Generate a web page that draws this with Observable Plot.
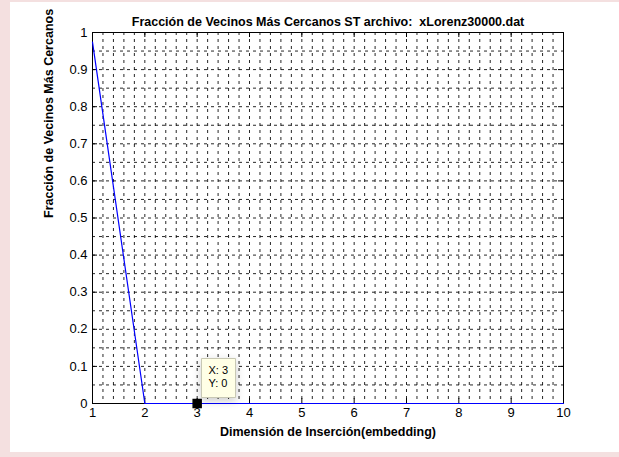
<!DOCTYPE html>
<html>
<head>
<meta charset="utf-8">
<script src="https://cdn.jsdelivr.net/npm/d3@7"></script>
<script src="https://cdn.jsdelivr.net/npm/@observablehq/plot@0.6"></script>
<style>
  html, body { margin: 0; padding: 0; background: #f4e0e0; width: 619px; height: 457px; overflow: hidden; }
  #paper { position: absolute; left: 10px; top: 2px; width: 609px; height: 450px; background: #ffffff; }
  #chart { position: absolute; left: 0; top: 0; }
</style>
</head>
<body>
<div id="paper"></div>
<div id="chart"></div>
<script>
// Data
const dimensions = [1, 2, 3, 4, 5, 6, 7, 8, 9, 10];
const fractions  = [0.974, 0, 0, 0, 0, 0, 0, 0, 0, 0];
const xTicks = [1, 2, 3, 4, 5, 6, 7, 8, 9, 10];
const yTicks = [0, 0.1, 0.2, 0.3, 0.4, 0.5, 0.6, 0.7, 0.8, 0.9, 1];
const yTickLabels = ["0", "0.1", "0.2", "0.3", "0.4", "0.5", "0.6", "0.7", "0.8", "0.9", "1"];
const xMinorStep = 0.2;
const yMinorStep = 0.05;
const tipPoint = [{x: 3, y: 0}];
const titleText = "Fracción de Vecinos Más Cercanos ST archivo:  xLorenz30000.dat";
const xLabel = "Dimensión de Inserción(embedding)";
const yLabel = "Fracción de Vecinos Más Cercanos";

const series = dimensions.map((d, i) => ({x: d, y: fractions[i]}));
const xGrid = d3.range(1, 10 + 1e-9, xMinorStep).map(v => +v.toFixed(2));
const yGrid = d3.range(0, 1 + 1e-9, yMinorStep).map(v => +v.toFixed(2));

const W = 619, H = 457;
const mL = 92, mR = 56, mT = 32, mB = 54;
const frameH = H - mT - mB;
const frameW = W - mL - mR;
const font = "'Liberation Sans', Arial, Helvetica, sans-serif";

const chart = Plot.plot({
  width: W,
  height: H,
  marginLeft: mL,
  marginRight: mR,
  marginTop: mT,
  marginBottom: mB,
  style: {background: "transparent", fontFamily: font, fontSize: "12px", color: "#000"},
  x: {domain: [1, 10]},
  y: {domain: [0, 1]},
  marks: [
    // dashed grid
    Plot.ruleX(xGrid, {x: d => d, stroke: "#000", strokeWidth: 1, strokeDasharray: "3,4", strokeOpacity: 0.85}),
    Plot.ruleY(yGrid, {y: d => d, stroke: "#000", strokeWidth: 1, strokeDasharray: "3,4", strokeOpacity: 0.85}),
    // inward ticks on all sides
    Plot.ruleX(xTicks, {x: d => d, insetTop: frameH - 5, stroke: "#000"}),
    Plot.ruleX(xTicks, {x: d => d, insetBottom: frameH - 5, stroke: "#000"}),
    Plot.ruleY(yTicks, {y: d => d, insetRight: frameW - 5, stroke: "#000"}),
    Plot.ruleY(yTicks, {y: d => d, insetLeft: frameW - 5, stroke: "#000"}),
    Plot.frame({stroke: "#000", strokeWidth: 1}),
    Plot.axisX({ticks: xTicks, tickFormat: d => String(d), tickSize: 0, tickPadding: 4, label: null, fontSize: 13}),
    Plot.axisY({ticks: yTicks, tickFormat: d => yTickLabels[yTicks.indexOf(d)], tickSize: 0, tickPadding: 5, label: null, fontSize: 13}),
    // data line
    Plot.line(series, {x: "x", y: "y", stroke: "#0000ff", strokeWidth: 1.2}),
    // data tip marker
    Plot.dot(tipPoint, {x: "x", y: "y", symbol: "square", r: 4.5, fill: "#000", stroke: "#000"}),
    Plot.tip(tipPoint, {
      x: "x", y: "y",
      title: d => `X: ${d.x}\nY: ${d.y}`,
      anchor: "bottom-left",
      pointerSize: 0,
      dx: 4, dy: -6,
      fill: "#ffffe6",
      stroke: "#c8c8b4",
      textPadding: 7,
      fontSize: 11,
      lineHeight: 1.2
    }),
    // titles
    Plot.text([titleText], {frameAnchor: "top", dy: -15, fontWeight: "bold", fontSize: 12.5, fill: "#000"}),
    Plot.text([xLabel], {frameAnchor: "bottom", dy: 32, fontWeight: "bold", fontSize: 12.5, fill: "#000"}),
    Plot.text([yLabel], {frameAnchor: "left", dx: -44, rotate: -90, fontWeight: "bold", fontSize: 12.5, fill: "#000"})
  ]
});
document.getElementById("chart").appendChild(chart);
</script>
</body>
</html>
